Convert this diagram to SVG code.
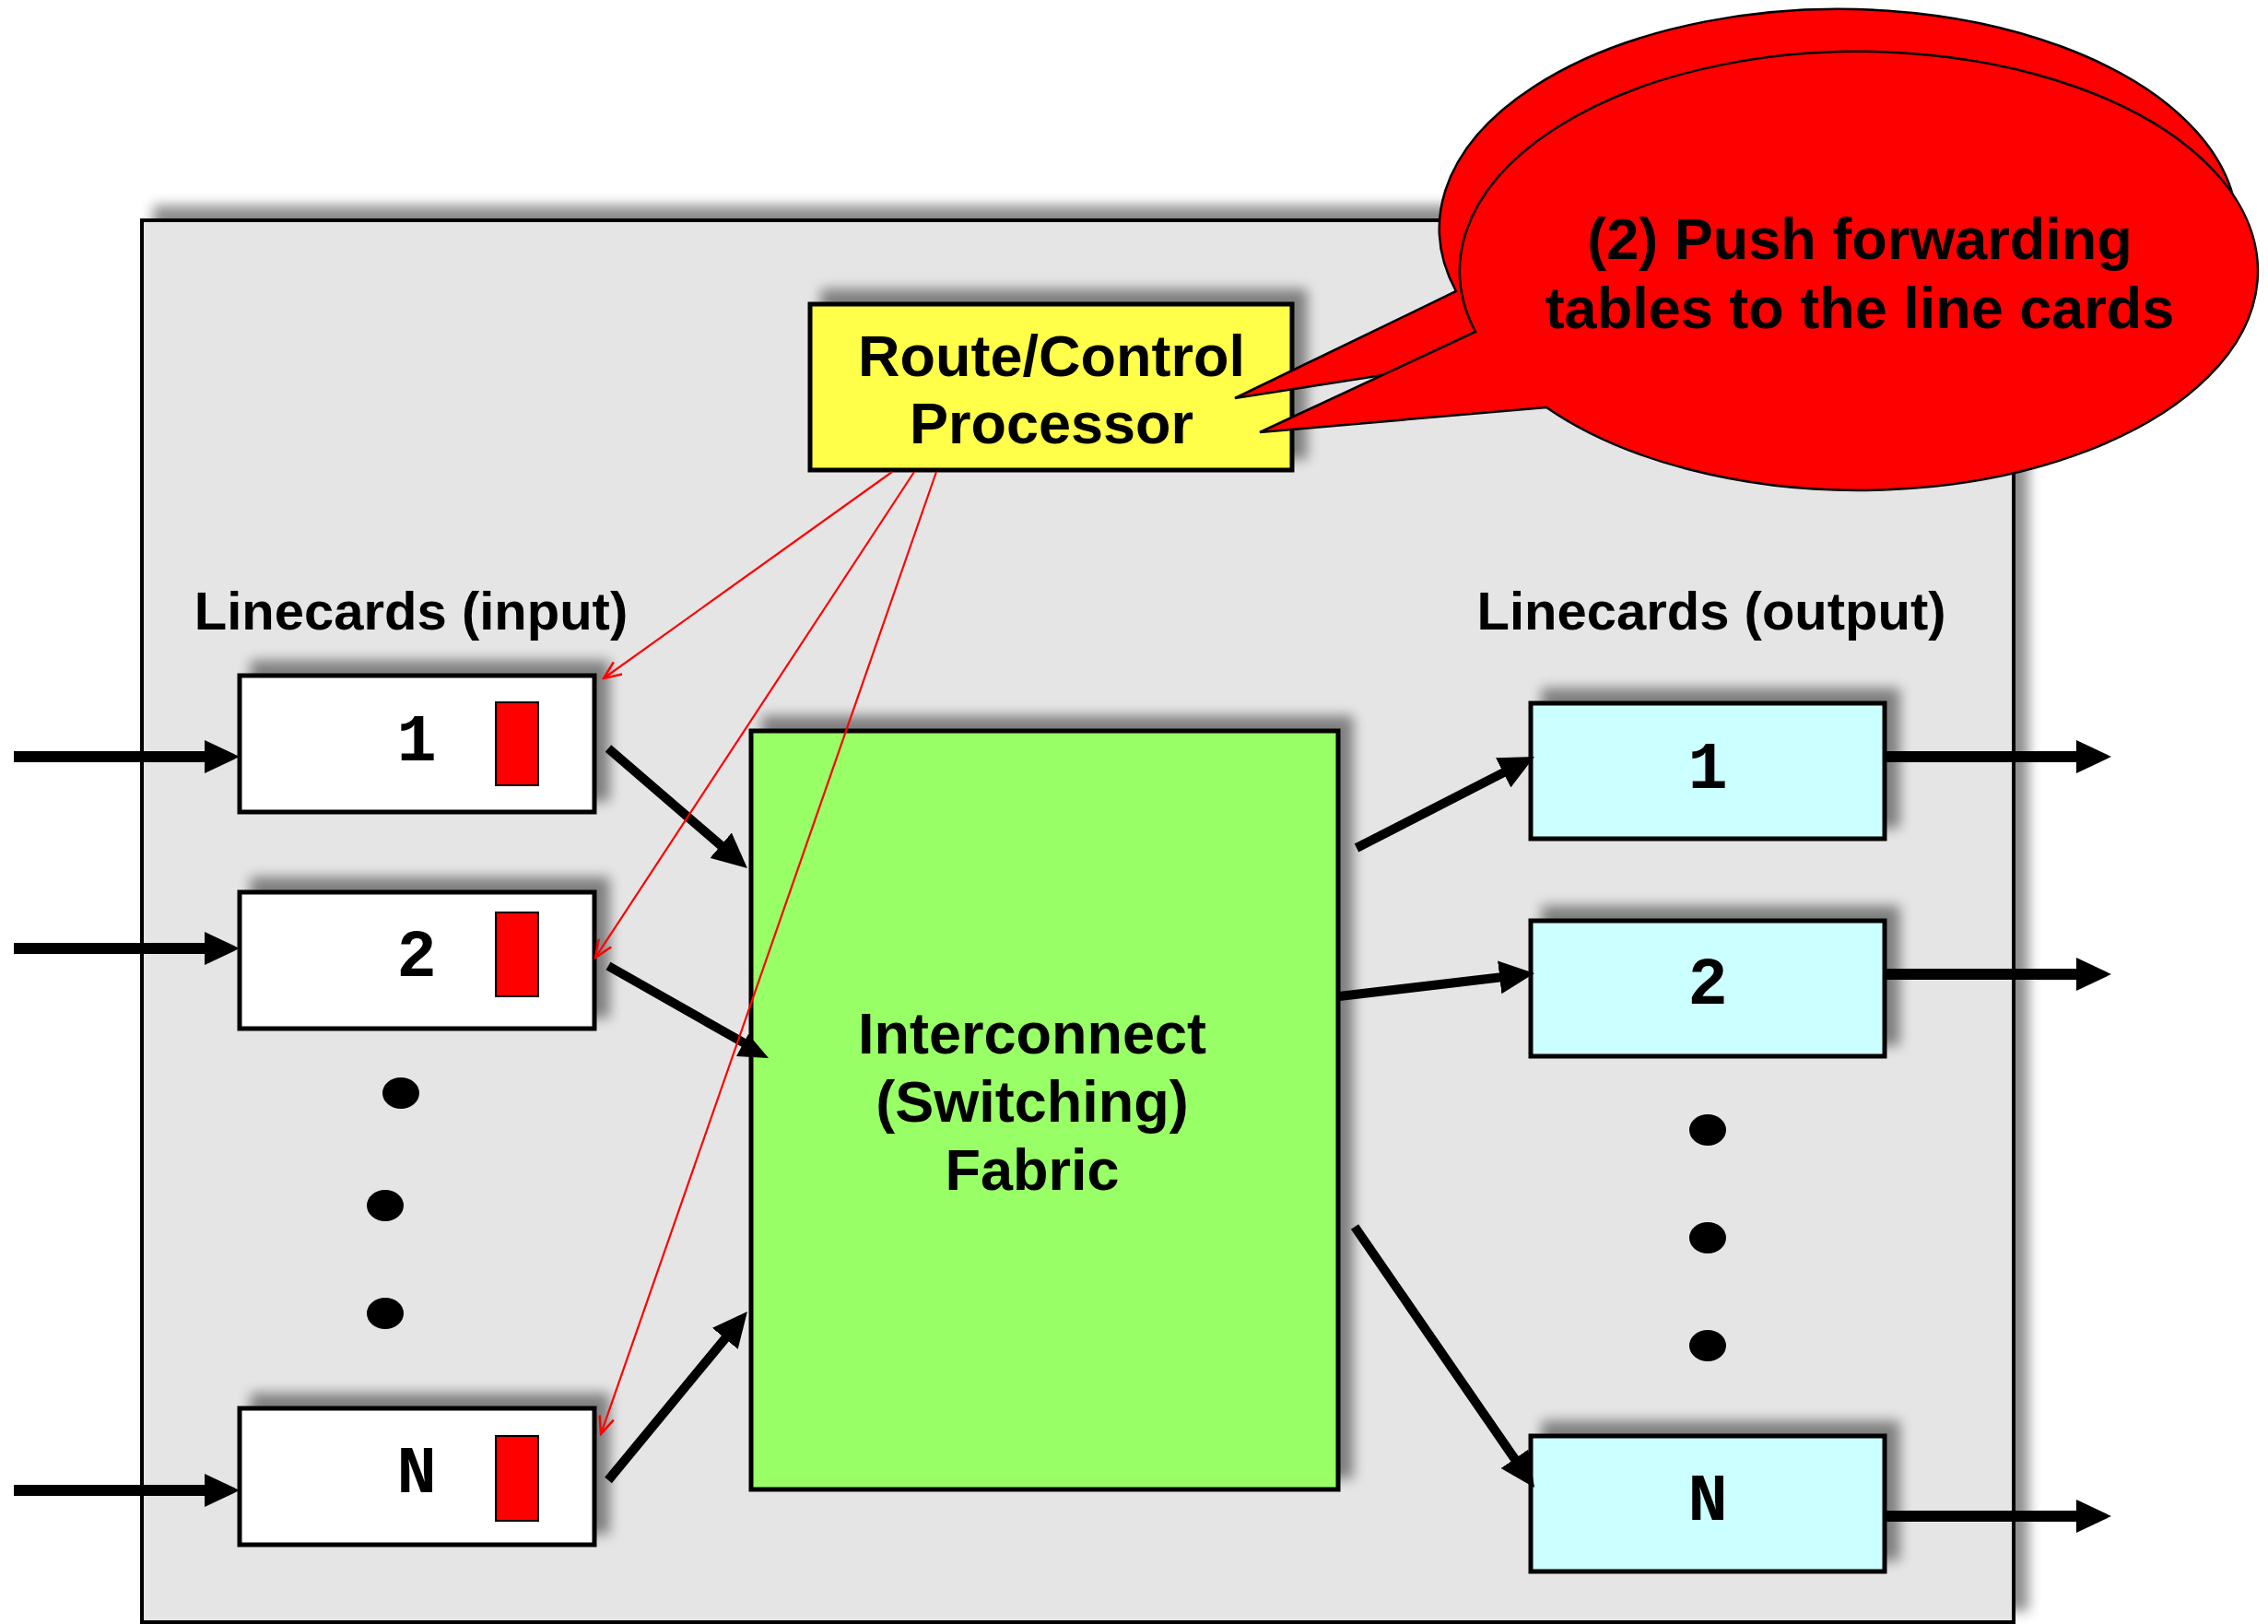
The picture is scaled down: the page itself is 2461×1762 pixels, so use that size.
<svg xmlns="http://www.w3.org/2000/svg" width="2461" height="1762" viewBox="0 0 2461 1762">
<style>
.lbl{font-family:"Liberation Sans",Arial,sans-serif;font-weight:bold;fill:#000;text-anchor:middle}
.num{font-family:"Liberation Mono","Courier New",monospace;font-weight:bold;font-size:72px;fill:#000;text-anchor:middle}
.box{stroke:#000;stroke-width:5}
.blk{stroke:#000;stroke-width:10;fill:none;marker-end:url(#ah)}
.hz{stroke-width:12}
.red{stroke:#FF0000;stroke-width:2.2;fill:none;marker-end:url(#rh)}
.dot{fill:#000}
.q{fill:#FF0000;stroke:#000;stroke-width:2}
</style>
<defs>
<filter id="sh" x="-10%" y="-20%" width="130%" height="140%">
<feGaussianBlur in="SourceAlpha" stdDeviation="7"/>
<feOffset dx="14" dy="-14"/>
<feComponentTransfer><feFuncA type="linear" slope="0.45"/></feComponentTransfer>
<feMerge><feMergeNode/><feMergeNode in="SourceGraphic"/></feMerge>
</filter>
<marker id="ah" markerUnits="userSpaceOnUse" viewBox="0 0 38 36" markerWidth="38" markerHeight="36" refX="6" refY="18" orient="auto">
<path d="M0,0 L38,18 L0,36 z" fill="#000"/>
</marker>
<marker id="rh" markerUnits="userSpaceOnUse" viewBox="0 0 22 18" markerWidth="22" markerHeight="18" refX="20" refY="9" orient="auto">
<path d="M1,1 L20,9 L1,17" fill="none" stroke="#FF0000" stroke-width="2.5"/>
</marker>
</defs>
<rect width="2461" height="1762" fill="#fff"/>

<g id="router">
<rect x="154" y="239" width="2031" height="1521" fill="#E5E5E5" stroke="#000" stroke-width="4" filter="url(#sh)"/>
</g>

<g id="label-input"><text class="lbl" x="446" y="683" font-size="58">Linecards (input)</text></g>
<g id="label-output"><text class="lbl" x="1857" y="683" font-size="58">Linecards (output)</text></g>

<g id="processor">
<rect class="box" x="879" y="330" width="523" height="180" fill="#FFFF4A" filter="url(#sh)"/>
<text class="lbl" x="1141" y="408" font-size="63">Route/Control</text>
<text class="lbl" x="1141" y="481" font-size="63">Processor</text>
</g>

<g id="fabric">
<rect class="box" x="815" y="793" width="637" height="823" fill="#99FF66" filter="url(#sh)"/>
<text class="lbl" x="1120" y="1143" font-size="63">Interconnect</text>
<text class="lbl" x="1120" y="1217" font-size="63">(Switching)</text>
<text class="lbl" x="1120" y="1291" font-size="63">Fabric</text>
</g>

<g id="in1">
<rect class="box" x="260" y="733" width="385" height="148" fill="#fff" filter="url(#sh)"/>
<rect class="q" x="538" y="762" width="46" height="90"/>
<text class="num" x="452" y="825">1</text>
</g>
<g id="in2">
<rect class="box" x="260" y="968" width="385" height="148" fill="#fff" filter="url(#sh)"/>
<rect class="q" x="538" y="990" width="46" height="91"/>
<text class="num" x="452" y="1059">2</text>
</g>
<g id="inN">
<rect class="box" x="260" y="1528" width="385" height="148" fill="#fff" filter="url(#sh)"/>
<rect class="q" x="538" y="1558" width="46" height="92"/>
<text class="num" x="452" y="1619">N</text>
</g>
<g id="in-dots">
<ellipse class="dot" cx="435" cy="1186" rx="20" ry="17"/>
<ellipse class="dot" cx="418" cy="1308" rx="20" ry="17"/>
<ellipse class="dot" cx="418" cy="1425" rx="20" ry="17"/>
</g>

<g id="out1">
<rect class="box" x="1661" y="763" width="384" height="147" fill="#CCFFFF" filter="url(#sh)"/>
<text class="num" x="1853" y="855">1</text>
</g>
<g id="out2">
<rect class="box" x="1661" y="999" width="384" height="147" fill="#CCFFFF" filter="url(#sh)"/>
<text class="num" x="1853" y="1089">2</text>
</g>
<g id="outN">
<rect class="box" x="1661" y="1558" width="384" height="147" fill="#CCFFFF" filter="url(#sh)"/>
<text class="num" x="1853" y="1649">N</text>
</g>
<g id="out-dots">
<ellipse class="dot" cx="1853" cy="1226" rx="20" ry="17"/>
<ellipse class="dot" cx="1853" cy="1343" rx="20" ry="17"/>
<ellipse class="dot" cx="1853" cy="1460" rx="20" ry="17"/>
</g>

<g id="connectors">
<line class="blk hz" x1="15" y1="821" x2="228" y2="821"/>
<line class="blk hz" x1="15" y1="1029" x2="228" y2="1029"/>
<line class="blk hz" x1="15" y1="1617" x2="228" y2="1617"/>
<line class="blk hz" x1="2045" y1="821" x2="2259" y2="821"/>
<line class="blk hz" x1="2045" y1="1057" x2="2259" y2="1057"/>
<line class="blk hz" x1="2045" y1="1645" x2="2259" y2="1645"/>
<line class="blk" x1="660" y1="812" x2="786.7" y2="921.1"/>
<line x1="660" y1="1048" x2="808" y2="1132" stroke="#000" stroke-width="10"/>
<polygon points="799,1146 834,1148 812,1122" fill="#000"/>
<line class="blk" x1="660" y1="1606" x2="790.6" y2="1447.7"/>
<line class="blk" x1="1472" y1="920" x2="1636.5" y2="835.6"/>
<line class="blk" x1="1453" y1="1081" x2="1633.2" y2="1059.7"/>
<line class="blk" x1="1470" y1="1331" x2="1646.9" y2="1587.7"/>
<line class="red" x1="968" y1="512" x2="655" y2="736"/>
<line class="red" x1="992" y1="512" x2="646" y2="1039"/>
<line class="red" x1="1016" y1="512" x2="652" y2="1556"/>
</g>

<g id="callout-back">
<path d="M1580,316 A433,238 0 1 1 1641,385 L1340,432 Z" fill="#FF0000" stroke="#000" stroke-width="2.5"/>
</g>
<g id="callout">
<path d="M1601,360 A433,238 0 1 1 1678,442 L1367,469 Z" fill="#FF0000" stroke="#000" stroke-width="2.5"/>
<text class="lbl" x="2018" y="281" font-size="63">(2) Push forwarding</text>
<text class="lbl" x="2018" y="356" font-size="63">tables to the line cards</text>
</g>
</svg>
